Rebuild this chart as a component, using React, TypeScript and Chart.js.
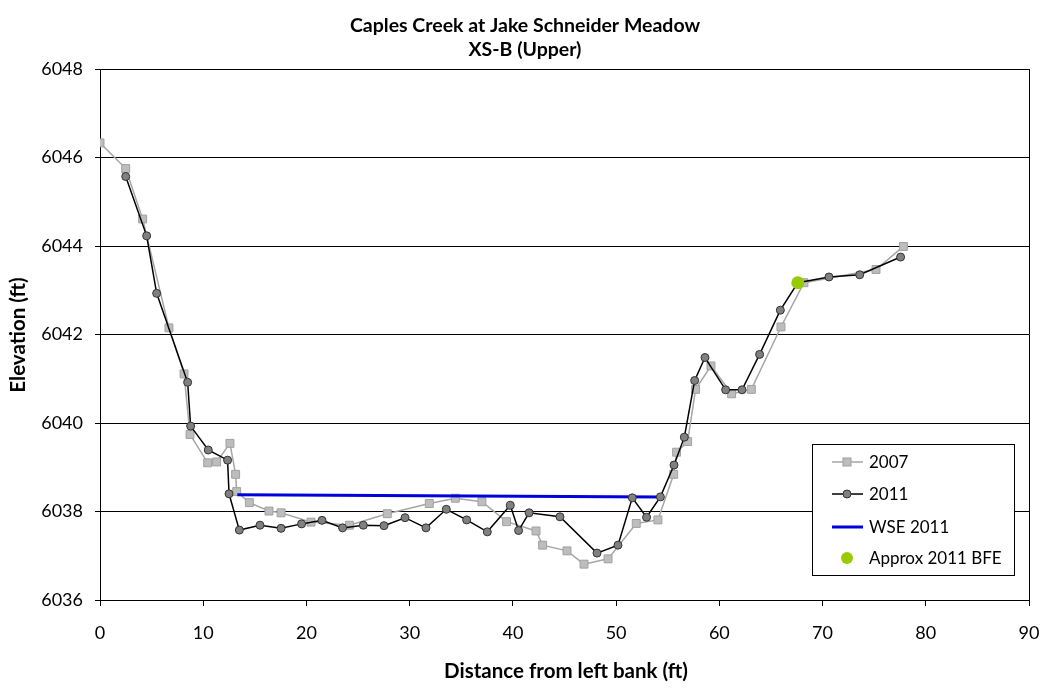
import React, { useEffect, useRef } from "react";
import { Chart, registerables } from "chart.js";

Chart.register(...registerables);

const titleLines = ["Caples Creek at Jake Schneider Meadow", "XS-B (Upper)"];
const xAxisTitle = "Distance from left bank (ft)";
const yAxisTitle = "Elevation (ft)";

const dist2007 = [0, 2.49, 4.13, 6.68, 8.14, 8.72, 10.43, 11.3, 12.59, 13.14, 13.24, 14.47, 16.37, 17.54, 20.44, 24.16, 27.83, 31.9, 34.42, 37.0, 39.39, 42.24, 42.88, 45.24, 46.89, 49.22, 51.95, 54.05, 55.58, 55.86, 56.93, 57.7, 59.19, 61.19, 63.1, 65.97, 68.2, 75.18, 77.83];
const elev2007 = [6046.33, 6045.75, 6044.61, 6042.15, 6041.11, 6039.74, 6039.1, 6039.12, 6039.54, 6038.84, 6038.45, 6038.2, 6038.01, 6037.97, 6037.76, 6037.69, 6037.95, 6038.18, 6038.3, 6038.22, 6037.77, 6037.56, 6037.24, 6037.11, 6036.81, 6036.93, 6037.73, 6037.81, 6038.84, 6039.34, 6039.58, 6040.76, 6041.29, 6040.66, 6040.76, 6042.17, 6043.17, 6043.47, 6043.99];

const dist2011 = [2.49, 4.52, 5.49, 8.49, 8.78, 10.49, 12.36, 12.5, 13.5, 15.5, 17.54, 19.53, 21.51, 23.5, 25.51, 27.51, 29.55, 31.58, 33.55, 35.52, 37.52, 39.75, 40.55, 41.57, 44.56, 48.15, 50.18, 51.57, 52.95, 54.29, 55.61, 56.61, 57.61, 58.61, 60.61, 62.2, 63.9, 65.91, 67.6, 70.62, 73.6, 77.56];
const elev2011 = [6045.57, 6044.23, 6042.93, 6040.92, 6039.93, 6039.39, 6039.16, 6038.4, 6037.58, 6037.69, 6037.62, 6037.72, 6037.8, 6037.63, 6037.69, 6037.68, 6037.86, 6037.63, 6038.05, 6037.81, 6037.54, 6038.14, 6037.57, 6037.97, 6037.88, 6037.06, 6037.24, 6038.31, 6037.87, 6038.33, 6039.05, 6039.68, 6040.96, 6041.48, 6040.75, 6040.75, 6041.55, 6042.55, 6043.17, 6043.3, 6043.35, 6043.75];

const distWse = [13.3, 54.29];
const elevWse = [6038.38, 6038.33];

const distBfe = [67.6];
const elevBfe = [6043.17];

const seriesNames = ["2007", "2011", "WSE 2011", "Approx 2011 BFE"];
const xTicks = { min: 0, max: 90, step: 10 };
const yTicks = { min: 6036, max: 6048, step: 2 };

const FONT = "Lato, 'Open Sans', sans-serif";

const toPts = (xs: number[], ys: number[]) => xs.map((x, i) => ({ x, y: ys[i] }));

const decorPlugin = {
  id: "decor",
  afterDraw(chart: any) {
    const { ctx, chartArea } = chart;
    const { left, right, top, bottom } = chartArea;
    ctx.save();
    ctx.strokeStyle = "#000";
    ctx.lineWidth = 1;
    ctx.beginPath();
    ctx.moveTo(Math.round(right) + 0.5, top);
    ctx.lineTo(Math.round(right) + 0.5, bottom);
    ctx.stroke();

    ctx.fillStyle = "#000";
    ctx.textAlign = "center";
    ctx.textBaseline = "middle";
    ctx.font = `bold 19.5px ${FONT}`;
    ctx.fillText(titleLines[0], 525, 26);
    ctx.fillText(titleLines[1], 525, 50);

    ctx.font = `bold 20.5px ${FONT}`;
    ctx.fillText(xAxisTitle, 566, 671);
    ctx.save();
    ctx.translate(18, 335);
    ctx.rotate(-Math.PI / 2);
    ctx.fillText(yAxisTitle, 0, 0);
    ctx.restore();

    const bx = 812, by = 444, bw = 202, bh = 131;
    ctx.fillStyle = "#fff";
    ctx.fillRect(bx, by, bw, bh);
    ctx.strokeStyle = "#000";
    ctx.lineWidth = 1;
    ctx.strokeRect(bx + 0.5, by + 0.5, bw, bh);
    const rows = [462, 494, 527, 558];
    const lx0 = 832, lx1 = 863, mx = 847, tx = 869;
    ctx.font = `17px ${FONT}`;
    ctx.textAlign = "left";
    ctx.textBaseline = "middle";
    ctx.strokeStyle = "#a6a6a6";
    ctx.lineWidth = 1.5;
    ctx.beginPath(); ctx.moveTo(lx0, rows[0]); ctx.lineTo(lx1, rows[0]); ctx.stroke();
    ctx.fillStyle = "#bdbdbd";
    ctx.fillRect(mx - 4, rows[0] - 4, 8, 8);
    ctx.strokeStyle = "#a0a0a0"; ctx.lineWidth = 1;
    ctx.strokeRect(mx - 4, rows[0] - 4, 8, 8);
    ctx.strokeStyle = "#000"; ctx.lineWidth = 1.5;
    ctx.beginPath(); ctx.moveTo(lx0, rows[1]); ctx.lineTo(lx1, rows[1]); ctx.stroke();
    ctx.fillStyle = "#808080"; ctx.strokeStyle = "#333"; ctx.lineWidth = 1;
    ctx.beginPath(); ctx.arc(mx, rows[1], 4, 0, Math.PI * 2); ctx.fill(); ctx.stroke();
    ctx.strokeStyle = "#0000dd"; ctx.lineWidth = 3;
    ctx.beginPath(); ctx.moveTo(lx0, rows[2]); ctx.lineTo(lx1, rows[2]); ctx.stroke();
    ctx.fillStyle = "#99cc00";
    ctx.beginPath(); ctx.arc(mx, rows[3], 6, 0, Math.PI * 2); ctx.fill();
    ctx.fillStyle = "#000";
    seriesNames.forEach((n, i) => ctx.fillText(n, tx, rows[i] + 1));
    ctx.restore();
  },
};

export default function App() {
  const ref = useRef<HTMLCanvasElement>(null);
  useEffect(() => {
    if (!ref.current) return;
    const chart = new Chart(ref.current, {
      type: "line",
      data: {
        datasets: [
          {
            label: seriesNames[0],
            data: toPts(dist2007, elev2007),
            borderColor: "#a6a6a6",
            borderWidth: 1.5,
            pointStyle: "rect",
            pointRadius: 5.6,
            pointBackgroundColor: "#bdbdbd",
            pointBorderColor: "#a0a0a0",
            pointBorderWidth: 1,
            tension: 0,
            order: 3,
          },
          {
            label: seriesNames[1],
            data: toPts(dist2011, elev2011),
            borderColor: "#000",
            borderWidth: 1.5,
            pointStyle: "circle",
            pointRadius: 4,
            pointBackgroundColor: "#808080",
            pointBorderColor: "#333",
            pointBorderWidth: 1,
            tension: 0,
            order: 1,
          },
          {
            label: seriesNames[2],
            data: toPts(distWse, elevWse),
            borderColor: "#0000dd",
            borderWidth: 3,
            pointRadius: 0,
            tension: 0,
            order: 2,
          },
          {
            label: seriesNames[3],
            data: toPts(distBfe, elevBfe),
            showLine: false,
            pointStyle: "circle",
            pointRadius: 6.5,
            pointBackgroundColor: "#99cc00",
            pointBorderColor: "#99cc00",
            pointBorderWidth: 0,
            order: 0,
          },
        ],
      },
      options: {
        responsive: false,
        animation: false,
        devicePixelRatio: 1,
        layout: { padding: { top: 69, right: 20, left: 0, bottom: 0 } },
        plugins: {
          legend: { display: false },
          title: { display: false },
          tooltip: { enabled: false },
        },
        scales: {
          x: {
            type: "linear",
            min: xTicks.min,
            max: xTicks.max,
            ticks: {
              stepSize: xTicks.step,
              color: "#000",
              font: { family: FONT, size: 18 },
              padding: 16,
              maxRotation: 0,
              callback: (v: any) => String(v),
            },
            grid: {
              drawOnChartArea: false,
              drawTicks: true,
              tickLength: 6,
              color: "#000",
            },
            border: { display: true, color: "#000", width: 1 },
            afterFit: (s: any) => {
              s.height = 90;
              s.paddingLeft = 0;
              s.paddingRight = 0;
            },
          },
          y: {
            type: "linear",
            min: yTicks.min,
            max: yTicks.max,
            ticks: {
              stepSize: yTicks.step,
              color: "#000",
              font: { family: FONT, size: 18 },
              padding: 12,
              callback: (v: any) => String(v),
            },
            grid: {
              drawTicks: true,
              tickLength: 5,
              color: "#000",
            },
            border: { display: true, color: "#000", width: 1 },
            afterFit: (s: any) => {
              s.width = 100;
              s.paddingTop = 0;
              s.paddingBottom = 0;
            },
          },
        },
      },
      plugins: [decorPlugin],
    });
    return () => chart.destroy();
  }, []);
  return (
    <div style={{ position: "absolute", left: 0, top: 0, width: 1049, height: 690, background: "#fff" }}>
      <canvas ref={ref} width={1049} height={690} />
    </div>
  );
}
